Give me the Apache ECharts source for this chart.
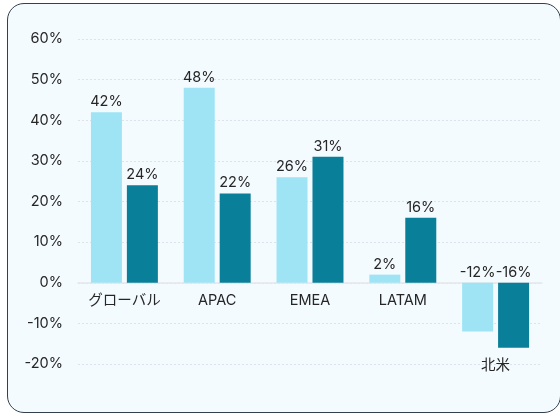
<!DOCTYPE html>
<html>
<head>
<meta charset="utf-8">
<script src="https://cdn.jsdelivr.net/npm/echarts@6/dist/echarts.min.js"></script>
<style>
  html, body { margin: 0; padding: 0; background: #ffffff; overflow: hidden; }
  #frame {
    position: absolute; left: 7px; top: 3px; width: 552px; height: 408px;
    border: 1.5px solid #34404e; border-radius: 17px; background: #f4fbfe;
  }
  #chart { position: absolute; left: 0; top: 0; width: 560px; height: 414px; }
</style>
</head>
<body>
<div id="frame"></div>
<div id="chart"></div>
<script>
  // data
  const regions = ['グローバル', 'APAC', 'EMEA', 'LATAM', '北米']
  const seriesA = [42, 48, 26, 2, -12]
  const seriesB = [24, 22, 31, 16, -16]
  const yTicks = [-20, -10, 0, 10, 20, 30, 40, 50, 60]

  const font = 'Inter, "Noto Sans CJK JP", sans-serif'
  const textColor = '#262626'
  const fontSize = 14.5
  const chart = echarts.init(document.getElementById('chart'))

  function barLabel (v) {
    return v + '%'
  }

  // category names sit under the zero line, or under the bars when they go negative
  const nameSpots = regions.map((name, i) => [name, Math.min(0, seriesA[i], seriesB[i])])

  const options = {
    animation: false,
    grid: { left: 78, right: 18, top: 39, bottom: 50, outerBoundsMode: 'none', containLabel: false },
    xAxis: {
      type: 'category',
      data: regions,
      axisLine: { show: true, onZero: true, lineStyle: { color: '#e3e6ea', width: 1.5 } },
      axisTick: { show: false },
      axisLabel: { show: false }
    },
    yAxis: {
      type: 'value',
      min: yTicks[0],
      max: yTicks[yTicks.length - 1],
      interval: 10,
      axisLine: { show: false },
      axisTick: { show: false },
      axisLabel: {
        margin: 15,
        color: textColor,
        fontFamily: font,
        fontSize: fontSize,
        formatter: '{value}%'
      },
      splitLine: { lineStyle: { color: '#dde3ea', type: [2, 2], width: 1 } }
    },
    series: [
      {
        name: 'A',
        type: 'bar',
        data: seriesA,
        barWidth: 31,
        barGap: '16%',
        itemStyle: { color: '#9fe4f5' },
        label: {
          show: true, position: 'top', distance: 3,
          color: textColor, fontFamily: font, fontSize: fontSize,
          formatter: (p) => barLabel(p.value)
        }
      },
      {
        name: 'B',
        type: 'bar',
        data: seriesB,
        barWidth: 31,
        itemStyle: { color: '#0a7f99' },
        label: {
          show: true, position: 'top', distance: 3,
          color: textColor, fontFamily: font, fontSize: fontSize,
          formatter: (p) => barLabel(p.value)
        }
      },
      {
        name: 'names',
        type: 'scatter',
        data: nameSpots,
        symbolSize: 0,
        silent: true,
        z: 5,
        itemStyle: { opacity: 1 },
        label: {
          show: true, position: 'bottom', distance: 11, opacity: 1,
          color: textColor, fontFamily: font, fontSize: fontSize,
          formatter: (p) => p.value[0]
        }
      }
    ]
  }
  chart.setOption(options)
</script>
</body>
</html>
